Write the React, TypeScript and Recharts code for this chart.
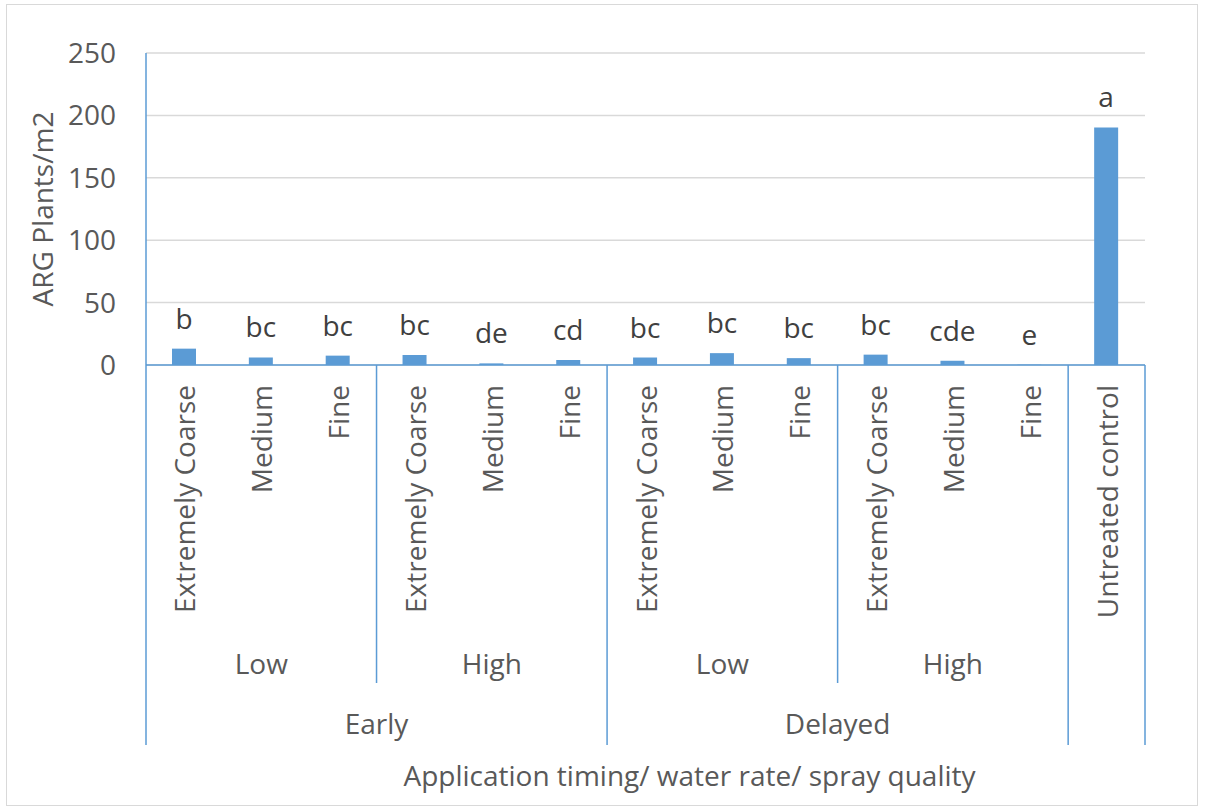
import React from "react";
import { BarChart, Bar, XAxis, YAxis, CartesianGrid, LabelList, Label } from "recharts";

const sprayQuality = [
  "Extremely Coarse", "Medium", "Fine",
  "Extremely Coarse", "Medium", "Fine",
  "Extremely Coarse", "Medium", "Fine",
  "Extremely Coarse", "Medium", "Fine",
  "Untreated control",
];
const waterRate = ["Low", "Low", "Low", "High", "High", "High", "Low", "Low", "Low", "High", "High", "High", ""];
const timing = ["Early", "Early", "Early", "Early", "Early", "Early", "Delayed", "Delayed", "Delayed", "Delayed", "Delayed", "Delayed", ""];
const plantsPerM2 = [13.1, 6.1, 7.5, 8.0, 1.3, 4.0, 6.0, 9.5, 5.5, 8.3, 3.4, 0.3, 190.4];
const letters = ["b", "bc", "bc", "bc", "de", "cd", "bc", "bc", "bc", "bc", "cde", "e", "a"];
const yTicks = [0, 50, 100, 150, 200, 250];

const data = sprayQuality.map((q, i) => ({
  key: `${timing[i]}|${waterRate[i]}|${q}|${i}`,
  value: plantsPerM2[i],
  letter: letters[i],
}));

const BLUE = "#5b9bd5";
const TEXT = "#595959";
const FS = 28;
const CHART_W = 1190;
const CHART_H = 800;
const MARGIN = { top: 48, right: 52, left: 59, bottom: 40 };
const Y_W = 80;
const PLOT_W = CHART_W - MARGIN.left - MARGIN.right - Y_W;

function MultiTick(props: any) {
  const { x, y, payload } = props;
  const i: number = payload?.index ?? props.index ?? 0;
  const half: number =
    typeof payload?.offset === "number" && payload.offset > 0 ? payload.offset : PLOT_W / data.length / 2;
  const left = x - half;
  const elems: any[] = [];
  const timingChange = i === 0 || timing[i] !== timing[i - 1];
  const rateChange = timingChange || waterRate[i] !== waterRate[i - 1];
  const LONG = 380;
  const MID = 318;
  if (timingChange) {
    elems.push(<line key="lt" x1={left} x2={left} y1={y} y2={y + LONG} stroke={BLUE} strokeWidth={1.5} />);
  } else if (rateChange) {
    elems.push(<line key="lm" x1={left} x2={left} y1={y} y2={y + MID} stroke={BLUE} strokeWidth={1.5} />);
  }
  if (i === data.length - 1) {
    elems.push(<line key="rt" x1={x + half} x2={x + half} y1={y} y2={y + LONG} stroke={BLUE} strokeWidth={1.5} />);
  }
  const ty = y + 20;
  elems.push(
    <text
      key="l1"
      x={x}
      y={ty}
      transform={`rotate(-90, ${x}, ${ty})`}
      textAnchor="end"
      dominantBaseline="central"
      fill={TEXT}
      fontSize={FS}
    >
      {sprayQuality[i]}
    </text>
  );
  if (waterRate[i] && rateChange) {
    let n = 0;
    while (i + n < data.length && waterRate[i + n] === waterRate[i] && timing[i + n] === timing[i]) n++;
    elems.push(
      <text key="l2" x={left + n * half} y={y + 298} textAnchor="middle" dominantBaseline="central" fill={TEXT} fontSize={FS}>
        {waterRate[i]}
      </text>
    );
  }
  if (timing[i] && timingChange) {
    let n = 0;
    while (i + n < data.length && timing[i + n] === timing[i]) n++;
    elems.push(
      <text key="l3" x={left + n * half} y={y + 358} textAnchor="middle" dominantBaseline="central" fill={TEXT} fontSize={FS}>
        {timing[i]}
      </text>
    );
  }
  return <g>{elems}</g>;
}

function XTitle(props: any) {
  const vb = props.viewBox || { x: 0, y: 0, width: 0, height: 0 };
  return (
    <text x={vb.x + vb.width / 2 + 44} y={vb.y + 410} textAnchor="middle" dominantBaseline="central" fill={TEXT} fontSize={FS}>
      Application timing/ water rate/ spray quality
    </text>
  );
}

function YTitle(props: any) {
  const vb = props.viewBox || { x: 0, y: 0, width: 0, height: 0 };
  const cx = vb.x - 24;
  const cy = vb.y + vb.height / 2;
  return (
    <text x={cx} y={cy} transform={`rotate(-90, ${cx}, ${cy})`} textAnchor="middle" dominantBaseline="central" fill={TEXT} fontSize={FS}>
      ARG Plants/m2
    </text>
  );
}

export default function App() {
  return (
    <div
      style={{
        position: "absolute",
        left: 6,
        top: 4,
        width: CHART_W + 2,
        height: CHART_H + 2,
        border: "1px solid #d9d9d9",
        boxSizing: "border-box",
        background: "#fff",
        fontFamily: '"Open Sans", sans-serif',
      }}
    >
      <BarChart width={CHART_W} height={CHART_H} data={data} margin={MARGIN}>
        <CartesianGrid vertical={false} stroke="#d9d9d9" strokeWidth={1.5} />
        <XAxis
          dataKey="key"
          interval={0}
          height={400}
          tickLine={false}
          tickSize={0}
          tickMargin={0}
          axisLine={{ stroke: BLUE, strokeWidth: 1.5 }}
          tick={<MultiTick />}
        >
          <Label content={<XTitle />} />
        </XAxis>
        <YAxis
          width={Y_W}
          domain={[0, 250]}
          ticks={yTicks}
          tickLine={false}
          tickSize={0}
          tickMargin={30}
          axisLine={{ stroke: BLUE, strokeWidth: 1.5 }}
          tick={{ fill: TEXT, fontSize: FS }}
        >
          <Label content={<YTitle />} />
        </YAxis>
        <Bar dataKey="value" fill={BLUE} barSize={24} isAnimationActive={false}>
          <LabelList dataKey="letter" position="top" offset={20} fill="#404040" fontSize={FS} />
        </Bar>
      </BarChart>
    </div>
  );
}
